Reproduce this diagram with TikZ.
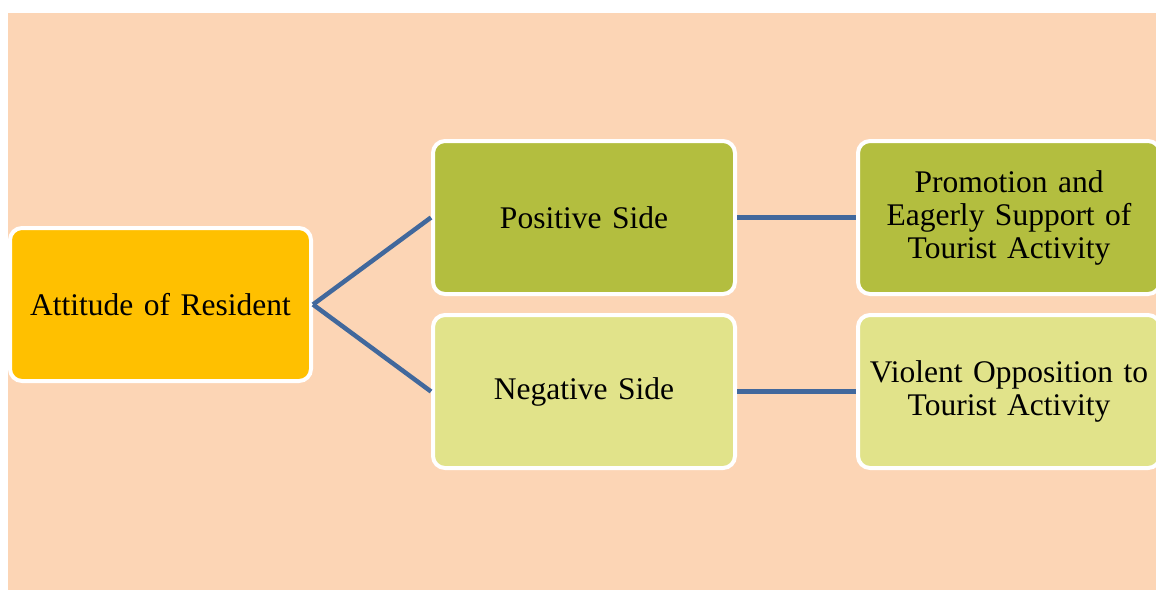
\documentclass[tikz,border=0pt]{standalone}
\usepackage{fontspec}
\setmainfont{Liberation Serif}
\definecolor{peach}{HTML}{FCD5B5}
\definecolor{gold}{HTML}{FFC000}
\definecolor{olive}{HTML}{B3BE3F}
\definecolor{lightolive}{HTML}{E1E38A}
\definecolor{linkblue}{HTML}{41689C}
\begin{document}
\begin{tikzpicture}[x=1pt,y=-1pt,
  box/.style={draw=white, line width=4pt, rounded corners=12pt, align=center,
    minimum width=302pt, minimum height=153pt, inner sep=0pt, text width=296pt,
    font=\fontsize{31.5}{33}\selectfont, text=black},
  link/.style={draw=linkblue, line width=4.5pt}]
\useasboundingbox (0,0) rectangle (1156,590);
\fill[peach] (8,13) rectangle (1156,590);
\node[box, fill=gold, minimum width=301pt] (att) at (160.5,304.5) {Attitude of Resident};
\node[box, fill=olive] (pos) at (584,217.5) {Positive Side};
\node[box, fill=lightolive] (neg) at (584,391.5) {Negative Side};
\node[box, fill=olive] (prom) at (1009,217.5) {Promotion and\\Eagerly Support of\\Tourist Activity};
\node[box, fill=lightolive] (viol) at (1009,391.5) {Violent Opposition to\\Tourist Activity};
\draw[link] (att.east) -- (pos.west);
\draw[link] (att.east) -- (neg.west);
\draw[link] (pos.east) -- (prom.west);
\draw[link] (neg.east) -- (viol.west);
\end{tikzpicture}
\end{document}
